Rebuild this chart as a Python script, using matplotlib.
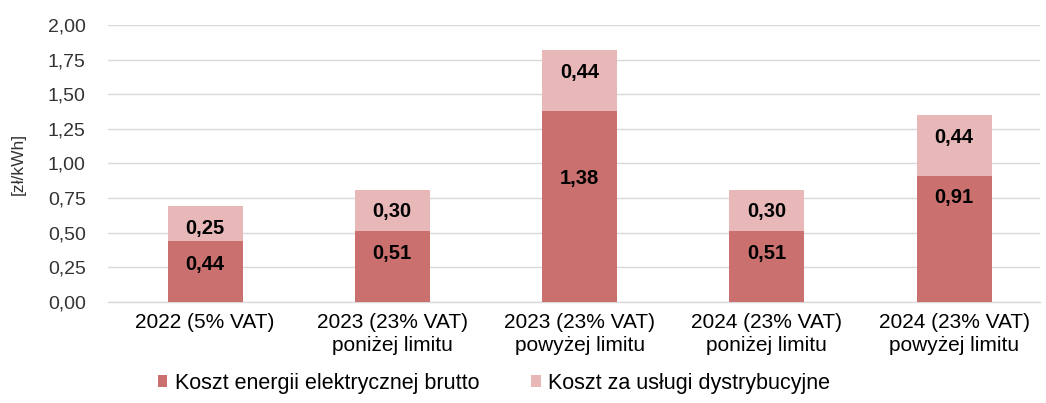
import matplotlib
matplotlib.use("Agg")
import matplotlib.pyplot as plt
import numpy as np

categories = [
    "2022 (5% VAT)",
    "2023 (23% VAT)\nponiżej limitu",
    "2023 (23% VAT)\npowyżej limitu",
    "2024 (23% VAT)\nponiżej limitu",
    "2024 (23% VAT)\npowyżej limitu",
]
energia = [0.44, 0.51, 1.38, 0.51, 0.91]
dystrybucja = [0.25, 0.30, 0.44, 0.30, 0.44]
series_names = ["Koszt energii elektrycznej brutto", "Koszt za usługi dystrybucyjne"]
yticks = [0.00, 0.25, 0.50, 0.75, 1.00, 1.25, 1.50, 1.75, 2.00]

DARK = "#CA7170"
LIGHT = "#E8B7B8"
# label drop below segment top, in pixels (the chart has one label set lower by hand)
dark_drop = [23, 22, 68, 22, 22]
light_drop = [22, 22, 23, 22, 22]

plt.rcParams["font.family"] = ["Liberation Sans", "DejaVu Sans"]

fig = plt.figure(figsize=(10.46, 4.03), dpi=100)
ax = fig.add_axes([0.1033, 0.2506, 0.8910, 0.6874])

x = np.arange(len(categories))
w = 0.40
b1 = ax.bar(x, energia, w, color=DARK, label=series_names[0], zorder=3)
b2 = ax.bar(x, dystrybucja, w, bottom=energia, color=LIGHT, label=series_names[1], zorder=3)

def fmt(v):
    return f"{v:.2f}".replace(".", ",")

for i in range(len(x)):
    ax.annotate(fmt(energia[i]), (x[i], energia[i]), xytext=(0, -dark_drop[i]),
                textcoords="offset pixels", ha="center", va="center",
                fontsize=14.5, fontweight="bold", color="black", zorder=4)
    top = energia[i] + dystrybucja[i]
    ax.annotate(fmt(dystrybucja[i]), (x[i], top), xytext=(0, -light_drop[i]),
                textcoords="offset pixels", ha="center", va="center",
                fontsize=14.5, fontweight="bold", color="black", zorder=4)

ax.set_ylim(0, 2.0)
ax.set_xlim(-0.518, 4.459)
ax.set_yticks(yticks)
ax.set_yticklabels([fmt(v) for v in yticks], fontsize=14, color="#333333")
ax.set_xticks(x)
ax.set_xticklabels(categories, fontsize=15, color="black", linespacing=1.25)
ax.tick_params(axis="both", length=0)
ax.tick_params(axis="x", pad=8)
ax.tick_params(axis="y", pad=16)
ax.set_ylabel("[zł/kWh]", fontsize=12.5, color="#333333", labelpad=16)

ax.grid(axis="y", color="#D9D9D9", linewidth=1.0, zorder=0)
for s in ["top", "right", "left"]:
    ax.spines[s].set_visible(False)
ax.spines["bottom"].set_color("#D9D9D9")
ax.spines["bottom"].set_linewidth(1.0)

fig.legend(handles=[b1, b2], labels=series_names, loc="center",
           bbox_to_anchor=(494 / 1046, 1 - 383 / 403), ncol=2, frameon=False,
           fontsize=15.5, handlelength=0.45, handleheight=0.45,
           handletextpad=0.35, columnspacing=2.4)

fig.savefig("out.png", dpi=100)
